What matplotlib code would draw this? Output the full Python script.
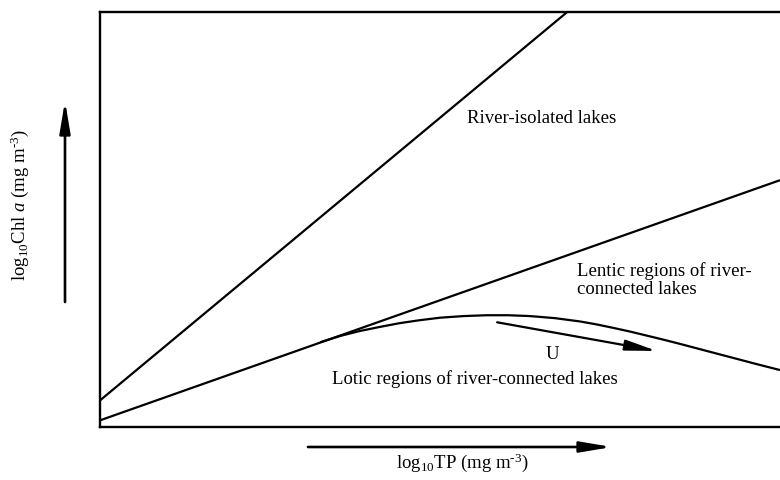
"""
Conceptual sketch of Chl a response to TP in river-isolated and
river-connected lakes.
"""
# Library import
import matplotlib.pyplot as plt
from matplotlib.patches import FancyArrowPatch

# Font configuration
plt.rcParams["font.family"] = ["Liberation Serif", "DejaVu Serif"]
plt.rcParams["mathtext.fontset"] = "custom"
plt.rcParams["mathtext.rm"] = "Liberation Serif"
plt.rcParams["mathtext.it"] = "Liberation Serif:italic"

# Relative units: x and y both run 0-100 over the frame
# River-isolated lakes - straight steep line
iso_x = [0.0, 68.8]
iso_y = [6.4, 100.0]

# Lentic regions of river-connected lakes - shallower line
lentic_x = [0.0, 100.0]
lentic_y = [1.6, 59.4]

# Lotic regions - hump-shaped curve leaving the lentic line
lotic_x = [32.4, 35.3, 38.2, 41.2, 44.1, 47.0, 50.0, 53.5, 56.9, 60.0,
           63.2, 66.9, 70.6, 73.0, 75.5, 78.0, 80.4, 82.9, 85.3, 89.0,
           92.6, 96.3, 100.0]
lotic_y = [20.4, 21.9, 23.1, 24.1, 25.0, 25.7, 26.3, 26.7, 26.9, 26.9,
           26.7, 26.2, 25.4, 24.7, 23.85, 22.95, 22.0, 21.0, 20.0, 18.4,
           16.85, 15.25, 13.7]

# Flow velocity arrow (tail, tip)
u_tail = (58.4, 25.2)
u_tip = (81.9, 18.3)

# Text labels
label_iso = "River-isolated lakes"
label_lentic = "Lentic regions of river-\nconnected lakes"
label_lotic = "Lotic regions of river-connected lakes"
label_u = "U"
label_x = "$\\mathregular{log_{10}}$TP (mg m$^{\u2010\\mathregular{3}}$)"
label_y = ("$\\mathregular{log_{10}}$Chl $\\mathit{a}$ "
           "(mg m$^{\u2010\\mathregular{3}}$)")

# Figure setup
fig = plt.figure(figsize=(7.8, 4.81), dpi=100)
ax = fig.add_axes([0.1282, 0.1102, 0.8846, 0.8638])
ax.set_xlim(0, 101.47)
ax.set_ylim(0, 100)
ax.set_xticks([])
ax.set_yticks([])
for side in ["left", "bottom", "top"]:
    ax.spines[side].set_linewidth(1.7)
ax.spines["right"].set_visible(False)

# Lines
line_kw = dict(color="black", lw=1.6, solid_capstyle="butt",
               solid_joinstyle="round")
ax.plot(iso_x, iso_y, **line_kw)
ax.plot(lentic_x, lentic_y, **line_kw)
ax.plot(lotic_x, lotic_y, **line_kw)

# Velocity arrow
arrow_style = "-|>,head_length=1.9,head_width=0.32"
ax.annotate(
    "", xy=u_tip, xytext=u_tail,
    arrowprops=dict(arrowstyle=arrow_style, color="black", lw=1.6,
                    shrinkA=0, shrinkB=0, mutation_scale=10),
)

# Region labels
fs = 13.5
ax.text(54.0, 74.5, label_iso, fontsize=fs, ha="left", va="center")
ax.text(70.1, 35.6, label_lentic, fontsize=fs, ha="left", va="center",
        linespacing=1.15)
ax.text(55.1, 11.8, label_lotic, fontsize=fs, ha="center", va="center")
ax.text(66.5, 17.8, label_u, fontsize=fs, ha="center", va="center")

# Axis direction arrows outside the frame
fig.patches.append(FancyArrowPatch(
    (65, 178), (65, 379), transform=None, arrowstyle=arrow_style,
    color="black", lw=1.9, mutation_scale=10, shrinkA=0, shrinkB=0,
))
fig.patches.append(FancyArrowPatch(
    (308, 33), (612, 33), transform=None, arrowstyle=arrow_style,
    color="black", lw=1.9, mutation_scale=10, shrinkA=0, shrinkB=0,
))

# Axis labels
fig.text(462 / 780, 18 / 481, label_x, fontsize=fs, ha="center",
         va="center")
fig.text(20 / 780, 276 / 481, label_y, fontsize=fs, ha="center",
         va="center", rotation=90)

plt.savefig("out.png", dpi=100)
plt.close()
